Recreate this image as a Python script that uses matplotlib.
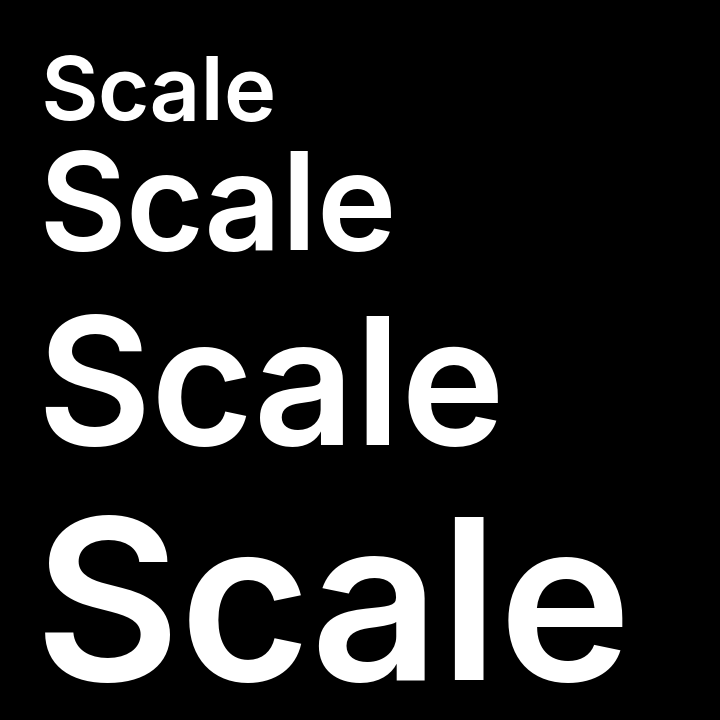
import matplotlib
matplotlib.use("Agg")
import matplotlib.pyplot as plt

labels = ["Scale", "Scale", "Scale", "Scale"]
sizes_pt = [64, 97, 127, 162]
baselines_px = [120, 250, 445, 680]

fig = plt.figure(figsize=(7.2, 7.2), dpi=100, facecolor="black")
for lab, s, b in zip(labels, sizes_pt, baselines_px):
    x_px = 45 - 0.07 * s
    fig.text(x_px/720, 1 - b/720, lab, fontsize=s, color="white",
             family=["Inter", "DejaVu Sans"], fontweight="semibold",
             ha="left", va="baseline")
fig.savefig("out.png", dpi=100, facecolor="black")
